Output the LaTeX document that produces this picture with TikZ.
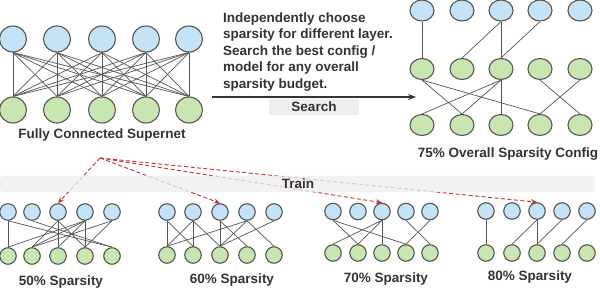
\documentclass[tikz,border=0pt]{standalone}
\usepackage{fontspec}
\setmainfont{Liberation Sans}
\usetikzlibrary{arrows.meta,shapes.geometric}

\definecolor{unitblue}{HTML}{C5E3F6}
\definecolor{unitgreen}{HTML}{C8E6B0}
\definecolor{linkgray}{HTML}{555555}
\definecolor{textgray}{HTML}{333333}
\definecolor{bandgray}{HTML}{EEEEEE}
\definecolor{trainred}{HTML}{D42A2A}

\begin{document}
\begin{tikzpicture}[x=1pt,y=-1pt,
  unit/.style={ellipse,draw=linkgray,line width=1.1pt,inner sep=0pt},
  bigunit/.style={unit,minimum width=27pt,minimum height=26pt},
  midunit/.style={unit,minimum width=24pt,minimum height=21pt},
  smallunit/.style={unit,minimum width=16.5pt,minimum height=16.5pt},
  inunit/.style={fill=unitblue},
  outunit/.style={fill=unitgreen},
  link/.style={linkgray,line width=.7pt},
  caption/.style={font=\fontsize{13.5}{16.5}\selectfont\bfseries,text=textgray,inner sep=0pt},
  trainlink/.style={trainred,line width=.9pt,dash pattern=on 4pt off 2.5pt,
    -{Stealth[length=6pt,width=5pt]}}]
  \useasboundingbox (0,0) rectangle (600,288);

  \foreach \i/\x in {1/13,2/57,3/102,4/146,5/189} {
    \node[bigunit,inunit] (full\i) at (\x,39) {};
    \node[bigunit,outunit] (fullb\i) at (\x,110) {};
  }
  \foreach \i in {1,...,5}
    \foreach \j in {1,...,5}
      \draw[link] (full\i.south) -- (fullb\j.north);
  \node[caption] (fullcap) at (102,135) {Fully Connected Supernet};

  \node[caption,align=left,anchor=north west] (note) at (223,12.5)
    {Independently choose\\sparsity for different layer.\\Search the best config /\\model for any overall\\sparsity budget.};
  \coordinate (searchfrom) at (212,97);
  \coordinate (searchto) at (416,97);
  \draw[textgray,line width=1.2pt,-{Stealth[length=8pt,width=6pt]}] (searchfrom) -- (searchto);
  \node[caption,fill=bandgray,minimum width=90pt,minimum height=16pt,rounded corners=2pt]
    (search) at (314,107) {Search};

  \foreach \i/\x in {1/422,2/462,3/501,4/540,5/580} {
    \node[midunit,inunit] (cfga\i) at (\x,10.5) {};
    \node[midunit,outunit] (cfgb\i) at (\x,69) {};
    \node[midunit,outunit] (cfgc\i) at (\x,125) {};
  }
  \foreach \a/\b in {1/1,3/2,3/3,4/3}
    \draw[link] (cfga\a.south) -- (cfgb\b.north);
  \foreach \a/\b in {1/2,1/4,3/1,3/2,3/3,4/5,5/4}
    \draw[link] (cfgb\a.south) -- (cfgc\b.north);
  \node[caption] (cfgcap) at (508,154) {75\% Overall Sparsity Config};

  \foreach \i/\x in {1/8,2/32,3/58,4/85,5/112} {
    \node[smallunit,inunit] (s50t\i) at (\x,212) {};
    \node[smallunit,outunit] (s50b\i) at (\x,256) {};
  }
  \foreach \a/\b in {1/1,1/5,2/5,3/2,3/3,3/4,4/1,4/2,4/3,4/4,5/2,5/4}
    \draw[link] (s50t\a.south) -- (s50b\b.north);
  \node[caption] (s50cap) at (61,282) {50\% Sparsity};

  \foreach \i/\x in {1/167,2/193,3/220,4/247,5/274} {
    \node[smallunit,inunit] (s60t\i) at (\x,212) {};
    \node[smallunit,outunit] (s60b\i) at (\x,255) {};
  }
  \foreach \a/\b in {1/1,1/2,2/1,2/2,2/3,3/3,3/4,4/1,4/3,4/5,5/3}
    \draw[link] (s60t\a.south) -- (s60b\b.north);
  \node[caption] (s60cap) at (232,280) {60\% Sparsity};

  \foreach \i/\x in {1/333,2/358,3/382,4/406,5/430} {
    \node[smallunit,inunit] (s70t\i) at (\x,211.5) {};
    \node[smallunit,outunit] (s70b\i) at (\x,253) {};
  }
  \foreach \a/\b in {1/2,1/4,3/1,3/2,3/3,4/5,5/4}
    \draw[link] (s70t\a.south) -- (s70b\b.north);
  \node[caption] (s70cap) at (386,279) {70\% Sparsity};

  \foreach \i/\x in {1/486,2/512,3/537,4/562,5/587} {
    \node[smallunit,inunit] (s80t\i) at (\x,211) {};
    \node[smallunit,outunit] (s80b\i) at (\x,253) {};
  }
  \foreach \a/\b in {1/1,3/2,3/3,4/3,5/4}
    \draw[link] (s80t\a.south) -- (s80b\b.north);
  \node[caption] (s80cap) at (530,277) {80\% Sparsity};

  \coordinate (fork) at (100,158);
  \draw[trainlink] (fork) -- (s50t3.north);
  \draw[trainlink] (fork) -- (s60t3.north);
  \draw[trainlink] (fork) -- (s70t3.north);
  \draw[trainlink] (fork) -- (s80t3.north);
  \fill[bandgray,fill opacity=.75,rounded corners=3pt] (0,176) rectangle (595,192);
  \node[caption] (train) at (298,184) {Train};
\end{tikzpicture}
\end{document}
